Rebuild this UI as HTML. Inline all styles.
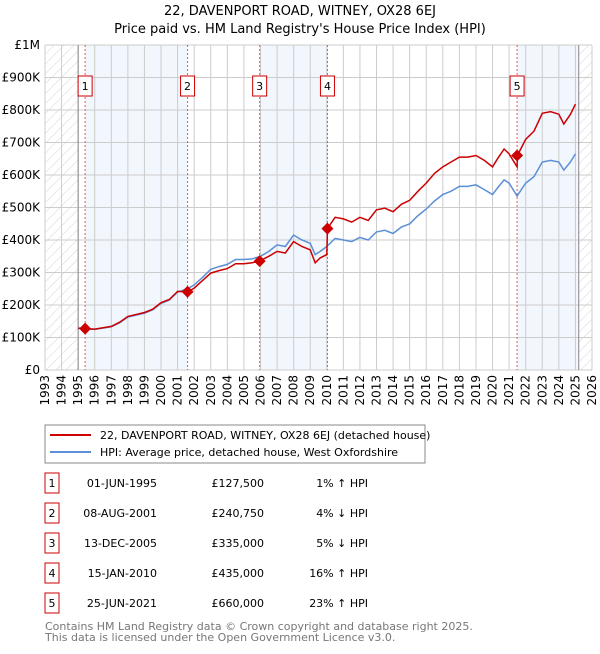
<!DOCTYPE html>
<html><head><meta charset="utf-8"><style>
body{margin:0;background:#fff;font-family:"DejaVu Sans","Liberation Sans",sans-serif;}
svg text{font-family:"DejaVu Sans","Liberation Sans",sans-serif;}
</style></head><body>
<svg id="c" width="600" height="650" xmlns="http://www.w3.org/2000/svg">
<defs><pattern id="hatch" width="7" height="7" patternUnits="userSpaceOnUse" patternTransform="rotate(45)"><line x1="0" y1="0" x2="0" y2="7" stroke="#d4d4d4" stroke-width="1"/></pattern></defs>
<text x="300" y="15" text-anchor="middle" font-size="13">22, DAVENPORT ROAD, WITNEY, OX28 6EJ</text>
<text x="300" y="33" text-anchor="middle" font-size="13">Price paid vs. HM Land Registry's House Price Index (HPI)</text>
<g id="plot"></g>
<rect x="45" y="425" width="380" height="38" fill="#fff" stroke="#888"/>
<line x1="50" y1="435" x2="91" y2="435" stroke="#cc0000" stroke-width="2"/>
<text x="100" y="439" font-size="11">22, DAVENPORT ROAD, WITNEY, OX28 6EJ (detached house)</text>
<line x1="50" y1="452" x2="91" y2="452" stroke="#5b8fd6" stroke-width="2"/>
<text x="100" y="456" font-size="11">HPI: Average price, detached house, West Oxfordshire</text>
<g id="table" font-size="11"></g>
<text x="45" y="630" font-size="11" fill="#777">Contains HM Land Registry data © Crown copyright and database right 2025.</text>
<text x="45" y="641" font-size="11" fill="#777">This data is licensed under the Open Government Licence v3.0.</text>
</svg>
<script>
const times=[1995,1996,1997,1997.5,1998,1999,1999.5,2000,2000.5,2001,2001.6,2002,2002.5,2003,2003.5,2004,2004.5,2005,2005.5,2006,2006.5,2007,2007.5,2008,2008.5,2009,2009.3,2009.6,2010,2010.04,2010.5,2011,2011.5,2012,2012.5,2013,2013.5,2014,2014.5,2015,2015.5,2016,2016.5,2017,2017.5,2018,2018.5,2019,2019.5,2020,2020.3,2020.7,2021,2021.48,2021.5,2022,2022.5,2023,2023.5,2024,2024.3,2024.7,2025];
const hpi=[128,125,133,145,163,175,185,205,215,240,250,262,285,310,318,325,340,340,342,350,365,385,380,415,400,390,355,365,380,382,405,400,395,408,400,425,430,420,440,450,475,495,520,540,550,565,565,570,555,540,560,585,575,535,537,575,595,640,645,640,615,640,665];
const price=[129,126,134,147,165,177,187,207,217,242,240,252,275,298,306,312,327,327,330,337,350,365,360,395,380,370,330,345,355,435,470,465,455,470,460,493,498,487,510,522,550,575,605,625,640,655,655,660,645,625,650,680,665,625,660,710,735,790,795,787,757,787,818];
const saleTimes=[1995.42,2001.6,2005.95,2010.04,2021.48];
const salePrices=[127.5,240.75,335,435,660];
const saleDates=["01-JUN-1995","08-AUG-2001","13-DEC-2005","15-JAN-2010","25-JUN-2021"];
const saleLabels=["£127,500","£240,750","£335,000","£435,000","£660,000"];
const saleHpi=["1% ↑ HPI","4% ↓ HPI","5% ↓ HPI","16% ↑ HPI","23% ↑ HPI"];
const yTicks=[0,100,200,300,400,500,600,700,800,900,1000];
const yTickLabels=["£0","£100K","£200K","£300K","£400K","£500K","£600K","£700K","£800K","£900K","£1M"];
const xMin=1993,xMax=2026,x0=45,x1=592,yB=370,yT=45;
const X=t=>x0+(t-xMin)/(xMax-xMin)*(x1-x0);
const Y=v=>yB-v/1000*(yB-yT);
const NS="http://www.w3.org/2000/svg";
const plot=document.getElementById('plot');
function mk(tag,attrs,parent){const e=document.createElementNS(NS,tag);for(const k in attrs)e.setAttribute(k,attrs[k]);(parent||plot).appendChild(e);return e;}
const shades=[[saleTimes[0],saleTimes[1]],[saleTimes[2],saleTimes[3]],[saleTimes[4],2025.2]];
shades.forEach((s,i)=>{const r=mk('rect',{x:X(s[0]),y:yT,width:X(s[1])-X(s[0]),height:yB-yT,fill:'#f2f6fd'});

});
let h=mk('rect',{x:x0,y:yT,width:X(1995)-x0,height:yB-yT,fill:'url(#hatch)'});


h=mk('rect',{x:X(2025.2),y:yT,width:x1-X(2025.2),height:yB-yT,fill:'url(#hatch)'});


for(let yr=xMin;yr<=xMax;yr++){const l=mk('line',{x1:X(yr),x2:X(yr),y1:yT,y2:yB,stroke:'#ccc','stroke-width':1});


const t=mk('text',{x:0,y:0,'font-size':12,'text-anchor':'end',transform:`translate(${X(yr)+4},${yB+5}) rotate(-90)`});t.textContent=yr;

}
yTicks.forEach((v,i)=>{const l=mk('line',{x1:x0,x2:x1,y1:Y(v),y2:Y(v),stroke:'#ccc','stroke-width':1});


const t=mk('text',{x:40,y:Y(v)+4,'font-size':12,'text-anchor':'end'});t.textContent=yTickLabels[i];

});
mk('line',{x1:X(1995),x2:X(1995),y1:yT,y2:yB,stroke:'#888'});
mk('line',{x1:X(2025.2),x2:X(2025.2),y1:yT,y2:yB,stroke:'#888'});
saleTimes.forEach((t,i)=>{const l=mk('line',{x1:X(t),x2:X(t),y1:yT,y2:yB,stroke:'#e55','stroke-width':1,'stroke-dasharray':'2,2'});

});
const pts=a=>times.map((t,i)=>X(t).toFixed(1)+','+Y(a[i]).toFixed(1)).join(' ');
let p=mk('polyline',{points:pts(hpi),fill:'none',stroke:'#5b8fd6','stroke-width':1.5});


p=mk('polyline',{points:pts(price),fill:'none',stroke:'#cc0000','stroke-width':1.5});


saleTimes.forEach((t,i)=>{const cx=X(t),cy=Y(salePrices[i]);
const d=mk('polygon',{points:`${cx},${cy-6} ${cx+6},${cy} ${cx},${cy+6} ${cx-6},${cy}`,fill:'#cc0000'});


const b=mk('rect',{x:cx-7,y:76,width:14,height:20,fill:'#fff',stroke:'#cc0000'});


const tx=mk('text',{x:cx,y:90,'font-size':11,'text-anchor':'middle'});tx.textContent=i+1;

});
const tb=document.getElementById('table');
saleDates.forEach((d,i)=>{const y=483+i*30;
const b=mk('rect',{x:45,y:y-10,width:14,height:20,fill:'#fff',stroke:'#cc0000'},tb);


const n=mk('text',{x:52,y:y+4,'text-anchor':'middle'},tb);n.textContent=i+1;


const a=mk('text',{x:157,y:y+4,'text-anchor':'end'},tb);a.textContent=d;


const pr=mk('text',{x:264,y:y+4,'text-anchor':'end'},tb);pr.textContent=saleLabels[i];


const hh=mk('text',{x:368,y:y+4,'text-anchor':'end'},tb);hh.textContent=saleHpi[i];

});
</script>
</body></html>
